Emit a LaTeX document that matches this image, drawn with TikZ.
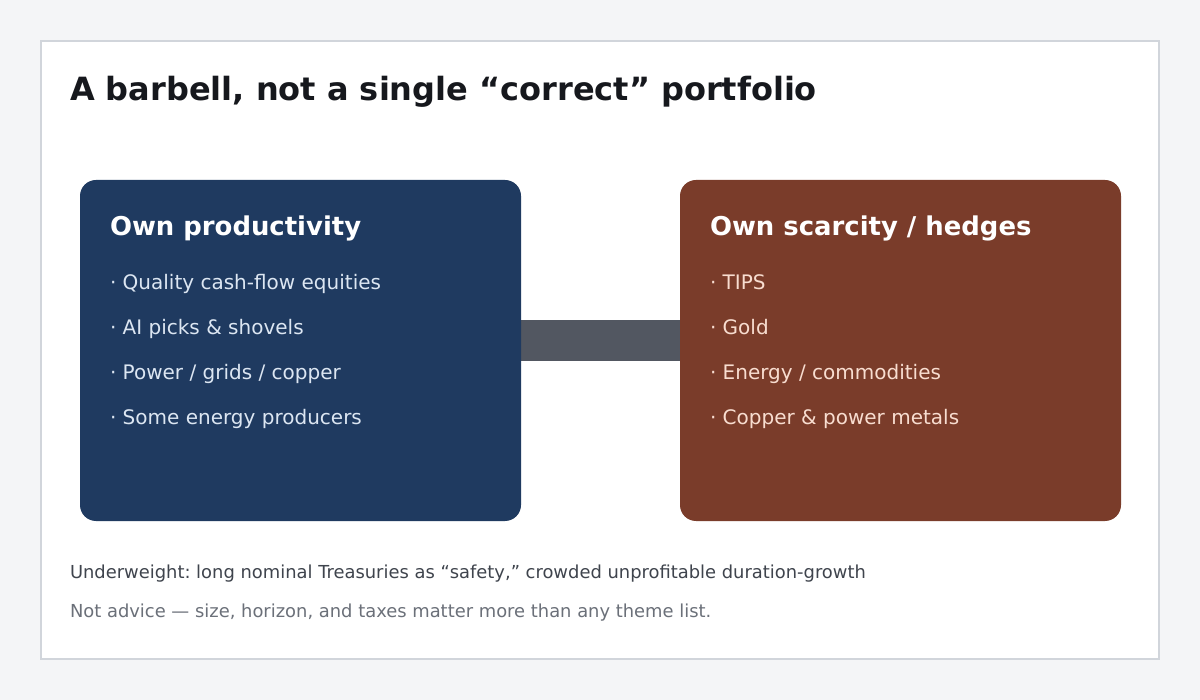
\documentclass[tikz,border=0pt]{standalone}
\usepackage{fontspec}
\setmainfont{DejaVu Sans}
\frenchspacing
\definecolor{pagebg}{HTML}{F4F5F7}
\definecolor{cardborder}{HTML}{D1D5DB}
\definecolor{titlecol}{HTML}{16181D}
\definecolor{bluebox}{HTML}{1F3A60}
\definecolor{brownbox}{HTML}{7A3C2A}
\definecolor{barcol}{HTML}{525761}
\definecolor{bluetext}{HTML}{DCE6F2}
\definecolor{browntext}{HTML}{F8DDD0}
\definecolor{foot1}{HTML}{3F444D}
\definecolor{foot2}{HTML}{6B7079}
\tikzset{
  txt/.style={anchor=base west, inner sep=0pt, outer sep=0pt},
  head/.style={txt, text=white, font=\fontsize{25.9}{30}\selectfont\bfseries},
  bulletl/.style={txt, text=bluetext, font=\fontsize{20}{24}\selectfont},
  bulletr/.style={txt, text=browntext, font=\fontsize{20}{24}\selectfont},
  panel/.style={rounded corners=16pt, draw=none},
}
\begin{document}
\begin{tikzpicture}[x=1pt,y=-1pt]
\fill[pagebg] (0,0) rectangle (1200,700);
\useasboundingbox (0,0) rectangle (1200,700);
\filldraw[fill=white, draw=cardborder, line width=1.5pt] (41,41) rectangle (1159,659);
\node[txt, text=titlecol, font=\fontsize{32}{36}\selectfont\bfseries] (title) at (70,101) {A barbell, not a single “correct” portfolio};
% bar
\fill[barcol] (519,320) rectangle (682,361);
% panels
\fill[panel, bluebox] (80,180) rectangle (521,521);
\fill[panel, brownbox] (680,180) rectangle (1121,521);
\node[head] (lh) at (110,236) {Own productivity};
\node[bulletl] (l1) at (110,290) {· Quality cash-flow equities};
\node[bulletl] (l2) at (110,335) {· AI picks \& shovels};
\node[bulletl] (l3) at (110,380) {· Power / grids / copper};
\node[bulletl] (l4) at (110,425) {· Some energy producers};
\node[head] (rh) at (710,236) {Own scarcity / hedges};
\node[bulletr] (r1) at (710,290) {· TIPS};
\node[bulletr] (r2) at (710,335) {· Gold};
\node[bulletr] (r3) at (710,380) {· Energy / commodities};
\node[bulletr] (r4) at (710,425) {· Copper \& power metals};
\node[txt, text=foot1, font=\fontsize{17.9}{20}\selectfont] (f1) at (70,578) {Underweight: long nominal Treasuries as “safety,” crowded unprofitable duration-growth};
\node[txt, text=foot2, font=\fontsize{17.9}{20}\selectfont] (f2) at (70,617) {Not advice — size, horizon, and taxes matter more than any theme list.};
\end{tikzpicture}
\end{document}
